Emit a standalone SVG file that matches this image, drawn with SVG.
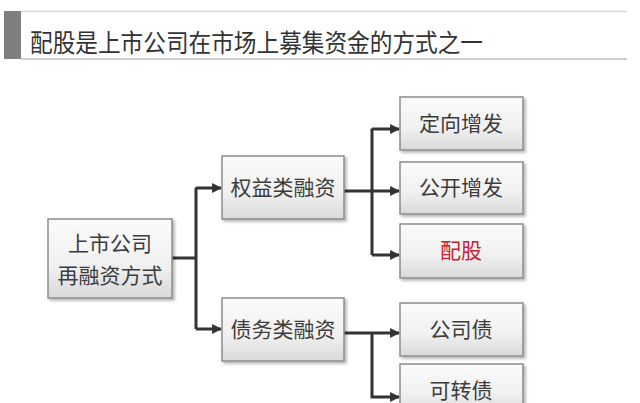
<svg xmlns="http://www.w3.org/2000/svg" width="640" height="403" viewBox="0 0 640 403">
<defs>
<linearGradient id="g" x1="0" y1="0" x2="0" y2="1">
<stop offset="0" stop-color="#fbfbfb"/>
<stop offset="0.6" stop-color="#f0f0f0"/>
<stop offset="1" stop-color="#d9d9d9"/>
</linearGradient>
<filter id="sh" x="-10%" y="-10%" width="125%" height="130%">
<feGaussianBlur in="SourceAlpha" stdDeviation="1.5"/>
<feOffset dx="1.5" dy="2" result="b"/>
<feComponentTransfer><feFuncA type="linear" slope="0.3"/></feComponentTransfer>
<feMerge><feMergeNode/><feMergeNode in="SourceGraphic"/></feMerge>
</filter>
<marker id="ah" viewBox="0 0 10 10" refX="9" refY="5" markerWidth="3.3" markerHeight="3.3" orient="auto" markerUnits="strokeWidth">
<path d="M0,0 L10,5 L0,10 z" fill="#333"/>
</marker>
</defs>
<style>
.box{fill:url(#g);stroke:#8c8c8c;stroke-width:1.5;filter:url(#sh)}
.t{font-family:"Microsoft YaHei","Noto Sans CJK SC",sans-serif;font-size:21px;fill:#3c3c3c;text-anchor:middle}
.red{fill:#c8202f}
.c{fill:none;stroke:#333;stroke-width:3;stroke-linejoin:miter}
</style>
<rect width="640" height="403" fill="#fff"/>
<g id="title">
<rect x="4" y="11" width="17" height="48" fill="#7f7f7f"/>
<line x1="21" y1="11.5" x2="627" y2="11.5" stroke="#d6d6d6" stroke-width="1.5"/>
<line x1="21" y1="59" x2="627" y2="59" stroke="#cfcfcf" stroke-width="2"/>
<text x="30" y="52" style="font-family:'Microsoft YaHei','Noto Sans CJK SC',sans-serif;font-size:25px;fill:#333" textLength="453" lengthAdjust="spacingAndGlyphs">配股是上市公司在市场上募集资金的方式之一</text>
</g>
<g id="connectors">
<path class="c" d="M172,258 H196 M196,187.5 V329 M196,188 H221" marker-end="url(#ah)"/>
<path class="c" d="M196,329 H221" marker-end="url(#ah)"/>
<path class="c" d="M344,191 H399" marker-end="url(#ah)"/>
<path class="c" d="M372,128.5 V255 M372,129 H399" marker-end="url(#ah)"/>
<path class="c" d="M372,255 H399" marker-end="url(#ah)"/>
<path class="c" d="M344,333 H399" marker-end="url(#ah)"/>
<path class="c" d="M372,333 V397 H399" marker-end="url(#ah)"/>
</g>
<g id="root">
<rect class="box" x="48" y="219" width="124" height="79"/>
<text class="t" x="110" y="251">上市公司</text>
<text class="t" x="110" y="283">再融资方式</text>
</g>
<g id="equity">
<rect class="box" x="222" y="156" width="122" height="63"/>
<text class="t" x="283" y="195">权益类融资</text>
</g>
<g id="debt">
<rect class="box" x="222" y="298" width="122" height="63"/>
<text class="t" x="283" y="337">债务类融资</text>
</g>
<g id="dingxiang">
<rect class="box" x="400" y="97" width="123" height="53"/>
<text class="t" x="461" y="131">定向增发</text>
</g>
<g id="gongkai">
<rect class="box" x="400" y="162" width="123" height="52"/>
<text class="t" x="461" y="195">公开增发</text>
</g>
<g id="peigu">
<rect class="box" x="400" y="224" width="123" height="54"/>
<text class="t red" x="461" y="258">配股</text>
</g>
<g id="gongsizhai">
<rect class="box" x="400" y="303" width="123" height="53"/>
<text class="t" x="461" y="337">公司债</text>
</g>
<g id="kezhuanzhai">
<rect class="box" x="400" y="364" width="123" height="50"/>
<text class="t" x="461" y="398">可转债</text>
</g>
</svg>
